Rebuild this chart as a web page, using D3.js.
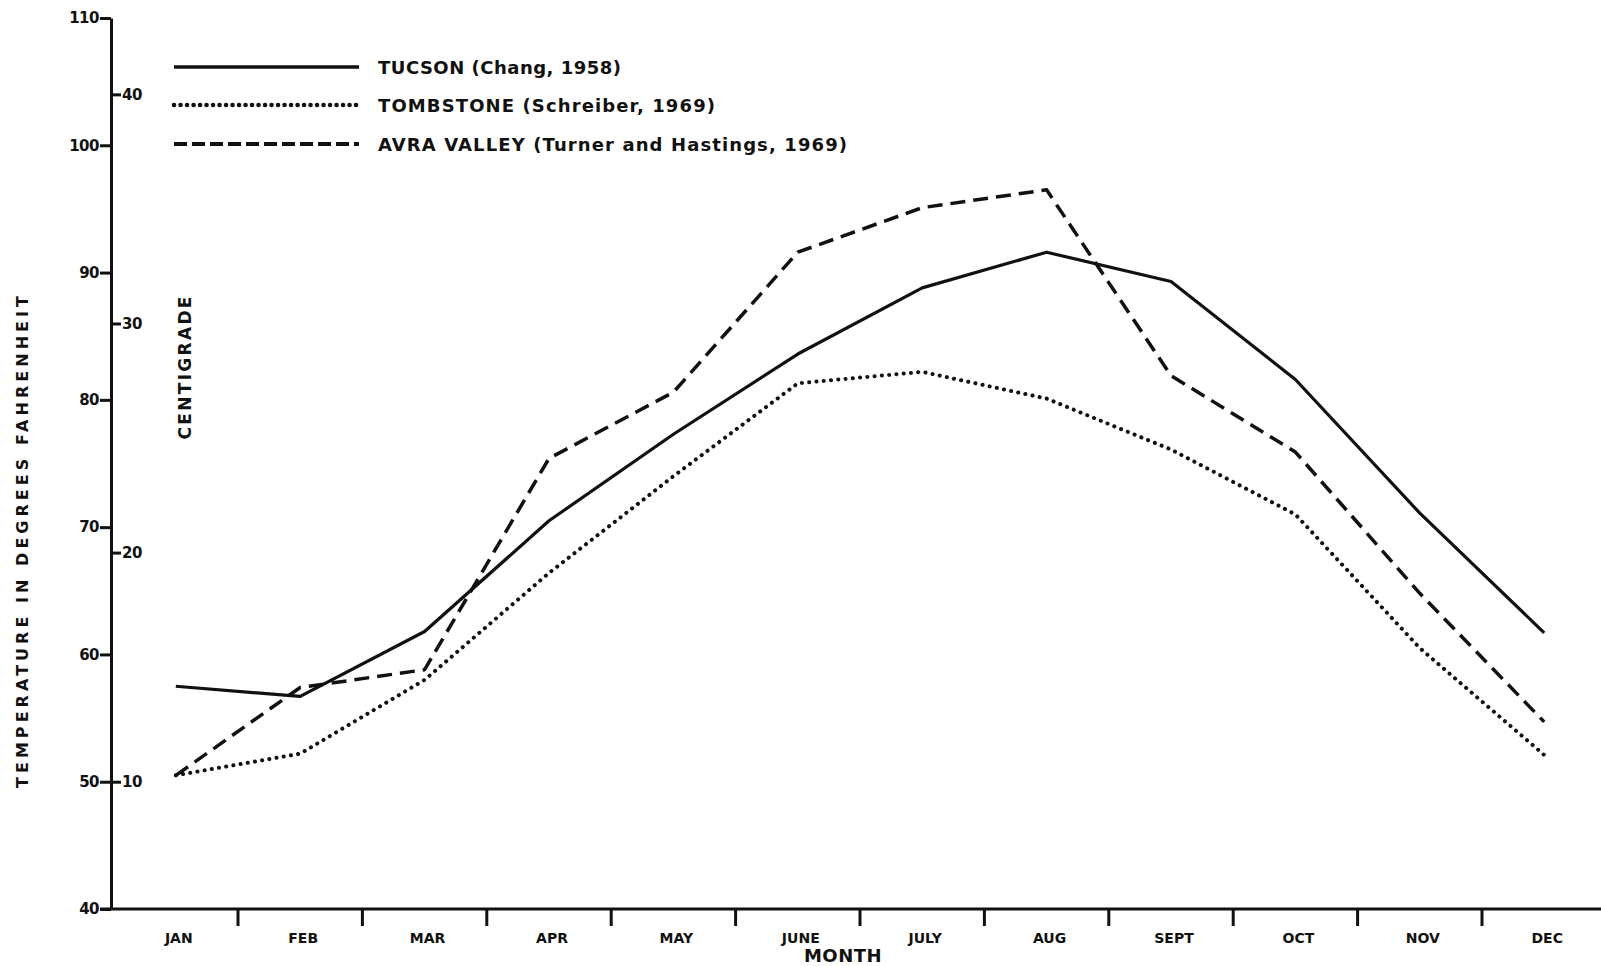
<!DOCTYPE html>
<html>
<head>
<meta charset="utf-8">
<script src="https://cdn.jsdelivr.net/npm/d3@7"></script>
<style>
  body { margin: 0; background: #fff; }
  svg { display: block; }
  text { font-family: 'DejaVu Sans', sans-serif; font-weight: bold; fill: #111; }
</style>
</head>
<body>
<div id="chart"></div>
<script>
// monthly mean temperatures, deg F
const months = ['JAN', 'FEB', 'MAR', 'APR', 'MAY', 'JUNE', 'JULY', 'AUG', 'SEPT', 'OCT', 'NOV', 'DEC'];
const tucson = [57.5, 56.7, 61.8, 70.5, 77.3, 83.6, 88.8, 91.6, 89.3, 81.6, 71.1, 61.7];
const tombstone = [50.5, 52.2, 58.0, 66.4, 74.0, 81.3, 82.2, 80.1, 76.1, 71.0, 60.5, 52.1];
const avraValley = [50.5, 57.4, 58.8, 75.4, 80.6, 91.6, 95.1, 96.5, 81.9, 75.9, 64.8, 54.7];
const seriesNames = ['TUCSON (Chang, 1958)', 'TOMBSTONE (Schreiber,  1969)', 'AVRA VALLEY (Turner and Hastings, 1969)'];
const fTicks = [40, 50, 60, 70, 80, 90, 100, 110];
const cTicks = [10, 20, 30, 40];

const W = 1601, H = 966;
const svg = d3.select('#chart').append('svg').attr('width', W).attr('height', H);

const x = d3.scaleBand().domain(months).range([113.6, 1606.4]);
const y = d3.scaleLinear().domain([40, 110]).range([909, 18]);
const axisX = 111;
const cx = m => x(m) + x.bandwidth() / 2;

// fahrenheit axis
const yAxis = svg.append('g')
  .attr('transform', `translate(${axisX},0)`)
  .call(d3.axisLeft(y).tickValues(fTicks).tickSize(11).tickSizeOuter(0).tickPadding(1));
yAxis.select('.domain').attr('stroke', '#111').attr('stroke-width', 3);
yAxis.selectAll('.tick line').attr('stroke', '#111').attr('stroke-width', 3);
yAxis.selectAll('.tick text').style('font-size', '15px').style('letter-spacing', '-0.5px').attr('fill', '#111');

// centigrade ticks on the same line
const cAxis = svg.append('g')
  .attr('transform', `translate(${axisX},0)`)
  .call(d3.axisRight(y).tickValues(cTicks.map(c => c * 9 / 5 + 32)).tickFormat((d, i) => cTicks[i])
    .tickSize(10).tickSizeOuter(0).tickPadding(1));
cAxis.select('.domain').remove();
cAxis.selectAll('.tick line').attr('stroke', '#111').attr('stroke-width', 3);
cAxis.selectAll('.tick text').style('font-size', '15px').style('letter-spacing', '-0.5px').attr('fill', '#111');

// month axis
svg.append('line')
  .attr('x1', 100).attr('x2', W).attr('y1', y(40)).attr('y2', y(40))
  .attr('stroke', '#111').attr('stroke-width', 3);
svg.append('g').selectAll('line')
  .data(months.slice(0, -1))
  .join('line')
  .attr('x1', d => x(d) + x.bandwidth()).attr('x2', d => x(d) + x.bandwidth())
  .attr('y1', y(40)).attr('y2', y(40) + 17)
  .attr('stroke', '#111').attr('stroke-width', 3);
svg.append('g').selectAll('text')
  .data(months)
  .join('text')
  .attr('x', d => cx(d) + 3).attr('y', 943)
  .attr('text-anchor', 'middle')
  .style('font-size', '14px')
  .text(d => d);

svg.append('text')
  .attr('x', 843).attr('y', 962)
  .attr('text-anchor', 'middle')
  .style('font-size', '18px').style('letter-spacing', '0.5px')
  .text('MONTH');

svg.append('text')
  .attr('transform', 'translate(28,542) rotate(-90)')
  .attr('text-anchor', 'middle')
  .attr('textLength', 492).attr('lengthAdjust', 'spacing')
  .style('font-size', '16px')
  .text('TEMPERATURE IN DEGREES FAHRENHEIT');

svg.append('text')
  .attr('transform', 'translate(191,368) rotate(-90)')
  .attr('text-anchor', 'middle')
  .attr('textLength', 143).attr('lengthAdjust', 'spacing')
  .style('font-size', '17px')
  .text('CENTIGRADE');

// series
const styles = [
  { width: 3.2, dash: null, cap: 'butt', legendDash: null },
  { width: 4, dash: '0.1 7.2', cap: 'round', legendDash: '0.1 6.4' },
  { width: 3.5, dash: '15 8', cap: 'butt', legendDash: '13 5' }
];
const series = [tucson, tombstone, avraValley];
const line = d3.line().x((d, i) => cx(months[i])).y(d => y(d));

svg.append('g').selectAll('path')
  .data(series)
  .join('path')
  .attr('d', line)
  .attr('fill', 'none')
  .attr('stroke', '#111')
  .attr('stroke-width', (d, i) => styles[i].width)
  .attr('stroke-dasharray', (d, i) => styles[i].dash)
  .attr('stroke-linecap', (d, i) => styles[i].cap)
  .attr('stroke-linejoin', 'round');

// legend
const legendY = [67, 105, 144];
const legendLen = [243, 337, 469];
const legend = svg.append('g').selectAll('g')
  .data(seriesNames)
  .join('g')
  .attr('transform', (d, i) => `translate(0,${legendY[i]})`);
legend.append('line')
  .attr('x1', 174).attr('x2', 359)
  .attr('stroke', '#111')
  .attr('stroke-width', (d, i) => styles[i].width + 0.5)
  .attr('stroke-dasharray', (d, i) => styles[i].legendDash)
  .attr('stroke-linecap', (d, i) => styles[i].cap);
legend.append('text')
  .attr('x', 378).attr('y', 7)
  .attr('textLength', (d, i) => legendLen[i]).attr('lengthAdjust', 'spacing')
  .style('font-size', '18px')
  .text(d => d);
</script>
</body>
</html>
